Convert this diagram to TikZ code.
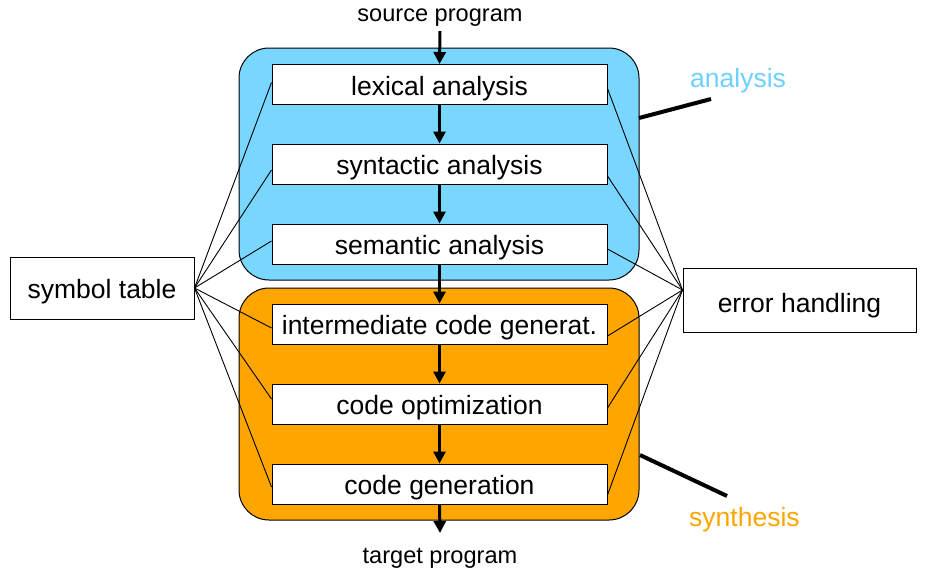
\documentclass[tikz,border=0pt]{standalone}
\usepackage{fontspec}
\setmainfont{Liberation Sans}
\usetikzlibrary{arrows.meta}
\definecolor{anablue}{RGB}{120,214,255}
\definecolor{anatext}{RGB}{110,208,255}
\definecolor{synor}{RGB}{255,165,0}
\begin{document}
\begin{tikzpicture}[x=1pt,y=-1pt,
  stage/.style={draw,fill=white,line width=1pt,minimum width=335pt,minimum height=40pt,inner sep=0pt,text height=21.5pt,text depth=0pt,font=\fontsize{26.5}{30}\selectfont},
  sidebox/.style={draw,fill=white,line width=1pt,inner sep=0pt,text depth=0pt,font=\fontsize{26.5}{30}\selectfont},
  phase/.style={draw,line width=1pt,rounded corners=30pt},
  flow/.style={line width=3pt,-{Triangle[length=12pt,width=12pt]}},
  link/.style={line width=0.9pt},
  callout/.style={line width=4pt},
  io/.style={inner sep=0pt,anchor=base,font=\fontsize{23.6}{28}\selectfont},
  phaselabel/.style={inner sep=0pt,anchor=base west,font=\fontsize{26.5}{30}\selectfont}]
\useasboundingbox (0,0) rectangle (931,574);
% phase regions
\draw[phase,fill=anablue] (239,48) rectangle (639,280);
\draw[phase,fill=synor] (239,288) rectangle (639,520);
% labels and side boxes
\node[io] (src) at (440,21) {source program};
\node[io] (tgt) at (440,563) {target program};
\node[sidebox,minimum width=184pt,minimum height=62pt,text height=20pt] (st) at (102,288) {symbol table};
\node[sidebox,minimum width=233pt,minimum height=64pt,text height=24pt] (eh) at (799.5,300) {error handling};
\node[phaselabel,text=anatext] (ana) at (690,87) {analysis};
\node[phaselabel,text=synor] (synth) at (689,526) {synthesis};
\coordinate (anaend) at (711,99);
\coordinate (synend) at (727,496);
% stage boxes (positions)
\path (439.5,84.5) coordinate (plex) (439.5,164) coordinate (psyn)
      (439.5,244) coordinate (psem) (439.5,324) coordinate (pint)
      (439.5,404) coordinate (popt) (439.5,484) coordinate (pgen);
\node[stage] (lex) at (plex) {lexical analysis};
\node[stage] (syn) at (psyn) {syntactic analysis};
\node[stage] (sem) at (psem) {semantic analysis};
\node[stage] (int) at (pint) {intermediate code generat.};
\node[stage] (opt) at (popt) {code optimization};
\node[stage] (gen) at (pgen) {code generation};
% links to symbol table
\draw[link] (st.east) -- ([yshift=2pt]lex.west);
\draw[link] (st.east) -- ([yshift=-6pt]syn.west);
\draw[link] (st.east) -- ([yshift=3pt]sem.west);
\draw[link] (st.east) -- ([yshift=-4pt]int.west);
\draw[link] (st.east) -- ([yshift=5pt]opt.west);
\draw[link] (st.east) -- ([yshift=-3pt]gen.west);
% links to error handling
\draw[link] ([yshift=10pt]eh.west) -- ([yshift=-4pt]lex.east);
\draw[link] ([yshift=10pt]eh.west) -- ([yshift=-12pt]syn.east);
\draw[link] ([yshift=10pt]eh.west) -- ([yshift=-5pt]sem.east);
\draw[link] ([yshift=10pt]eh.west) -- ([yshift=-12pt]int.east);
\draw[link] ([yshift=10pt]eh.west) -- ([yshift=-4pt]opt.east);
\draw[link] ([yshift=10pt]eh.west) -- ([yshift=-11pt]gen.east);
% callouts
\draw[callout] (639,118) -- (anaend);
\draw[callout] (640,455) -- (synend);
% flow arrows
\draw[flow] ([yshift=-10pt]src.base) -- (lex.north);
\draw[flow] (lex.south) -- (syn.north);
\draw[flow] (syn.south) -- (sem.north);
\draw[flow] (sem.south) -- (int.north);
\draw[flow] (int.south) -- (opt.north);
\draw[flow] (opt.south) -- (gen.north);
\draw[flow] (gen.south) -- ([yshift=30pt]tgt.base);
\end{tikzpicture}
\end{document}
